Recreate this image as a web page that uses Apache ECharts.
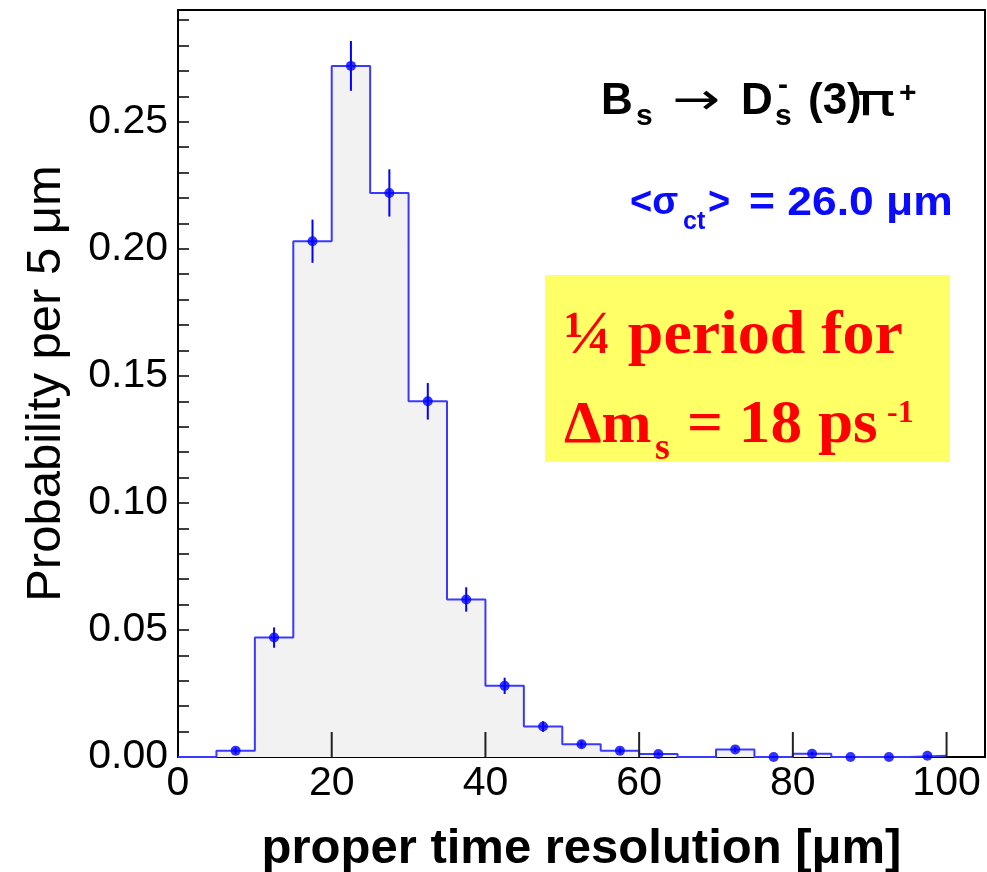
<!DOCTYPE html>
<html>
<head>
<meta charset="utf-8">
<script src="https://cdn.jsdelivr.net/npm/echarts@6/dist/echarts.min.js"></script>
<style>
  html, body { margin: 0; padding: 0; background: #fff; }
  #chart { width: 987px; height: 872px; }
</style>
</head>
<body>
<div id="chart"></div>
<script>
// ---------------- D A T A ---------------- //

// lower edge of each 5 um bin
const binLow = [0, 5, 10, 15, 20, 25, 30, 35, 40, 45, 50, 55, 60, 65, 70, 75, 80, 85, 90, 95]
const binWidth = 5
// probability per bin
const prob = [0, 0.0025, 0.047, 0.203, 0.272, 0.222, 0.140, 0.062, 0.028, 0.012,
  0.005, 0.0025, 0.0012, 0, 0.003, 0, 0.0013, 0, 0, 0.0005]
// error on each bin
const err = [0, 0.0012, 0.004, 0.0085, 0.0098, 0.0093, 0.0072, 0.0048, 0.0032, 0.0021,
  0.0013, 0.001, 0.0006, 0, 0.001, 0, 0.0007, 0, 0, 0.0004]
// bins drawn without a marker
const noPoint = [0, 13]

const xTicks = [0, 20, 40, 60, 80, 100]
const yTicks = [0, 0.05, 0.10, 0.15, 0.20, 0.25]

// ------------- B U I L D ------------- //

const stepData = binLow.map((x, i) => [x, prob[i]])
stepData.push([binLow[binLow.length - 1] + binWidth, prob[prob.length - 1]])

const pointData = binLow
  .map((x, i) => [x + binWidth / 2, prob[i], err[i]])
  .filter((d, i) => noPoint.indexOf(i) < 0)

const SANS = '"Liberation Sans", Arial, Helvetica, sans-serif'
const SERIF = '"Liberation Serif", "Times New Roman", serif'
const DEJAVU = '"DejaVu Sans", sans-serif'

const txt = (text, left, y, size, opts = {}) => ({
  type: 'text',
  left: left,
  top: y - size / 2,
  z: 20,
  scaleX: opts.sx || 1,
  style: {
    text: text,
    fontFamily: opts.family || SANS,
    fontSize: size,
    fontWeight: opts.weight || 'bold',
    fill: opts.color || '#000',
    lineHeight: size
  }
})

const chart = echarts.init(document.getElementById('chart'))

const option = {
  animation: false,
  backgroundColor: '#fff',
  grid: {
    left: 178,
    right: 2,
    top: 10,
    bottom: 115,
    outerBoundsMode: 'none',
    containLabel: false,
    show: true,
    borderColor: '#000',
    borderWidth: 2,
    backgroundColor: 'transparent'
  },
  xAxis: {
    type: 'value',
    min: 0,
    max: 105,
    interval: 20,
    name: 'proper time resolution [\u03bcm]',
    nameLocation: 'middle',
    nameGap: 68,
    nameTextStyle: { fontFamily: SANS, fontSize: 49, fontWeight: 'bold', color: '#000' },
    axisLine: { onZero: false, lineStyle: { color: '#000', width: 2 } },
    // ticks are drawn by the 'xticks' series so they sit above the fill
    axisTick: { show: false },
    axisLabel: {
      showMaxLabel: false,
      margin: 6,
      fontFamily: SANS,
      fontSize: 41,
      color: '#000',
      formatter: v => (xTicks.indexOf(v) >= 0 ? String(v) : '')
    },
    splitLine: { show: false }
  },
  yAxis: {
    type: 'value',
    min: 0,
    max: 0.294,
    interval: 0.05,
    name: 'Probability per 5 \u03bcm',
    nameLocation: 'middle',
    nameGap: 107,
    nameTextStyle: { fontFamily: SANS, fontSize: 49, color: '#000' },
    axisLine: { lineStyle: { color: '#000', width: 2 } },
    axisTick: { inside: true, length: 11, lineStyle: { color: '#000', width: 1.5 } },
    minorTick: { show: true, splitNumber: 5, length: 11, lineStyle: { color: '#000', width: 1.5 } },
    axisLabel: {
      showMaxLabel: false,
      margin: 10,
      fontFamily: SANS,
      fontSize: 41,
      color: '#000',
      formatter: v => (yTicks.some(t => Math.abs(t - v) < 1e-9) ? v.toFixed(2) : '')
    },
    splitLine: { show: false }
  },
  series: [
    {
      name: 'hist',
      type: 'line',
      step: 'end',
      data: stepData,
      showSymbol: false,
      lineStyle: { color: '#3a3aff', width: 2 },
      areaStyle: { color: '#f2f2f2', opacity: 1 },
      z: 2
    },
    {
      name: 'xticks',
      type: 'custom',
      data: xTicks.slice(1).map(v => [v, 0]),
      z: 5,
      silent: true,
      renderItem: (params, api) => {
        const p = api.coord([api.value(0), 0])
        return {
          type: 'line',
          shape: { x1: p[0], y1: p[1], x2: p[0], y2: p[1] - 25 },
          style: { stroke: '#222', lineWidth: 2 }
        }
      }
    },
    {
      name: 'errors',
      type: 'custom',
      data: pointData,
      z: 6,
      renderItem: (params, api) => {
        const x = api.value(0)
        const v = api.value(1)
        const e = api.value(2)
        const hi = api.coord([x, v + e])
        const lo = api.coord([x, v - e])
        return {
          type: 'line',
          shape: { x1: hi[0], y1: hi[1], x2: lo[0], y2: lo[1] },
          style: { stroke: '#0000ff', lineWidth: 2 }
        }
      }
    },
    {
      name: 'points',
      type: 'scatter',
      data: pointData.map(d => [d[0], d[1]]),
      symbol: 'circle',
      symbolSize: 10,
      itemStyle: { color: '#0000ff' },
      z: 7
    }
  ],
  graphic: [
    // yellow note box
    {
      type: 'rect',
      z: 10,
      shape: { x: 545, y: 275, width: 405, height: 187 },
      style: { fill: '#ffff66' }
    },
    // decay label
    txt('B', 601, 102, 44),
    txt('s', 636, 117, 30),
    txt('\u2192', 672, 103, 44, { weight: 'normal', family: DEJAVU, sx: 1.3 }),
    txt('D', 741, 102, 44),
    txt('-', 778, 86, 30),
    txt('s', 775, 117, 30),
    txt('(3)', 808, 102, 44),
    txt('\u03c0', 856, 104, 44, { weight: 'normal', family: DEJAVU, sx: 1.5 }),
    txt('+', 899, 94, 30),
    // mean resolution
    txt('<\u03c3', 630, 204, 38, { color: '#0a0aff' }),
    txt('ct', 683, 222, 25, { color: '#0a0aff' }),
    txt('>', 708, 204, 38, { color: '#0a0aff' }),
    txt('= 26.0 \u03bcm', 749, 204, 40, { color: '#0a0aff', sx: 1.11 }),
    // note text
    txt('\u00bc period for', 564, 337, 62, { family: SERIF, color: '#ff0000', sx: 1.03 }),
    txt('\u0394m', 564, 426, 60, { family: SERIF, color: '#ff0000' }),
    txt('s', 655, 449, 38, { family: SERIF, color: '#ff0000' }),
    txt('= 18 ps', 687, 426, 62, { family: SERIF, color: '#ff0000', sx: 1.02 }),
    txt('-1', 887, 414, 32, { family: SERIF, color: '#ff0000' })
  ]
}

chart.setOption(option)
</script>
</body>
</html>
